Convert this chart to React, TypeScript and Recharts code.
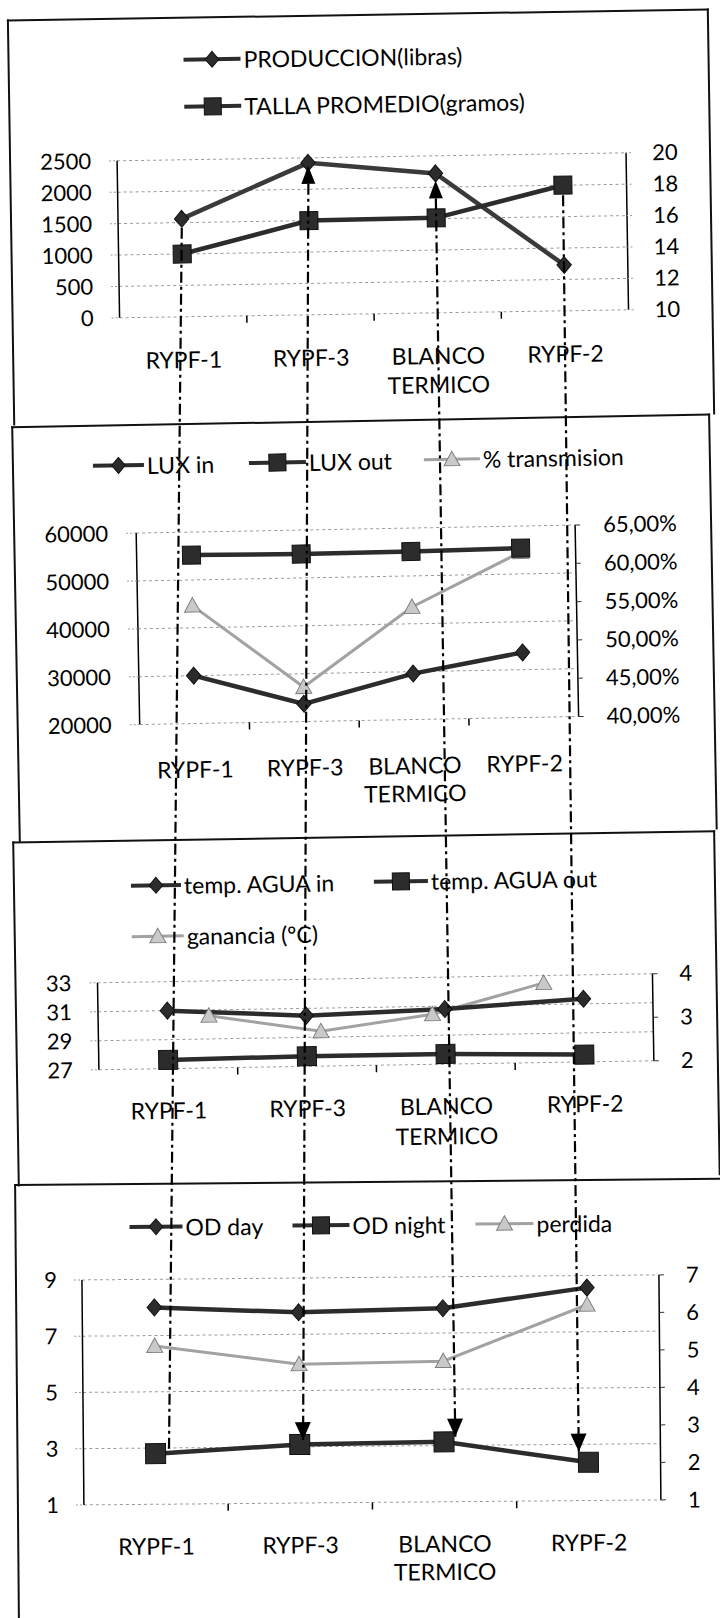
import React from 'react';
import { LineChart, Line, XAxis, YAxis, CartesianGrid, ReferenceDot } from 'recharts';

// ---------- DATA ----------
const categories = ['RYPF-1', 'RYPF-3', 'BLANCO TERMICO', 'RYPF-2'];

const p1Names = ['PRODUCCION(libras)', 'TALLA PROMEDIO(gramos)'];
const produccion = [1560, 2420, 2220, 730];
const tallaPromedio = [14.0, 16.0, 16.05, 18.0];
const p1LeftTicks = [0, 500, 1000, 1500, 2000, 2500];
const p1RightTicks = [10, 12, 14, 16, 18, 20];

const p2Names = ['LUX in', 'LUX out', '% transmision'];
const luxIn = [30000, 23700, 29600, 33600];
const luxOut = [55200, 55000, 55100, 55400];
const transmision = [0.554, 0.445, 0.547, 0.616];
const p2LeftTicks = [20000, 30000, 40000, 50000, 60000];
const p2RightTicks = [0.4, 0.45, 0.5, 0.55, 0.6, 0.65];

const p3Names = ['temp. AGUA in', 'temp. AGUA out', 'ganancia (ºC)'];
const tempIn = [31.0, 30.5, 30.8, 31.35];
const tempOut = [27.6, 27.7, 27.7, 27.5];
const ganancia = [3.2, 2.8, 3.15, 3.83];
const p3LeftTicks = [27, 29, 31, 33];
const p3RightTicks = [2, 3, 4];

const p4Names = ['OD day', 'OD night', 'perdida'];
const odDay = [8.0, 7.78, 7.88, 8.57];
const odNight = [2.8, 3.08, 3.13, 2.36];
const perdida = [5.22, 4.7, 4.75, 6.22];
const p4LeftTicks = [1, 3, 5, 7, 9];
const p4RightTicks = [1, 2, 3, 4, 5, 6, 7];

// ---------- tables built from the arrays ----------
const p1Data = categories.map((c, i) => ({ cat: c, prod: produccion[i], talla: tallaPromedio[i] }));
const p2Data = categories.map((c, i) => ({ cat: c, luxIn: luxIn[i], luxOut: luxOut[i], trans: transmision[i] }));
const p3Data = categories.map((c, i) => ({ cat: c, tIn: tempIn[i], tOut: tempOut[i], gan: ganancia[i] }));
const p4Data = categories.map((c, i) => ({ cat: c, day: odDay[i], night: odNight[i], perd: perdida[i] }));

// ---------- styles ----------
const FONT = 'Lato, "Open Sans", sans-serif';
const DARK = '#2c2c2c';
const LIGHT = '#a2a2a2';
const LIGHT_FILL = '#c9c9c9';
const GRID = '#9a9a9a';

type Kind = 'diamond' | 'square' | 'triangle';

function markerPath(kind: Kind, cx: number, cy: number, s: number) {
  const h = s / 2;
  if (kind === 'diamond') return `M${cx},${cy - h}L${cx + h * 0.85},${cy}L${cx},${cy + h}L${cx - h * 0.85},${cy}Z`;
  if (kind === 'square') return `M${cx - h},${cy - h}h${s}v${s}h${-s}Z`;
  return `M${cx},${cy - h}L${cx + h},${cy + h * 0.8}L${cx - h},${cy + h * 0.8}Z`;
}

const makeDot = (kind: Kind, size: number, light = false) => (props: any) => {
  const { cx, cy, index } = props;
  if (cx == null || cy == null) return <g key={index} />;
  return (
    <path
      key={index}
      d={markerPath(kind, cx, cy, size)}
      fill={light ? LIGHT_FILL : DARK}
      stroke={light ? '#808080' : '#111'}
      strokeWidth={1}
    />
  );
};

const makeCatTick = (margin: number, lineH: number) => (props: any) => {
  const { x, y, payload, index } = props;
  const words = String(payload.value).split(' ');
  const off = payload && payload.offset ? payload.offset : 0;
  const axisY = y - margin;
  return (
    <g>
      {index < categories.length - 1 && off > 0 && (
        <line x1={x + off} x2={x + off} y1={axisY} y2={axisY + 7} stroke="#000" strokeWidth={1.5} />
      )}
      <text x={x} y={y} textAnchor="middle" fill="#000" fontFamily={FONT} fontSize={23}>
        {words.map((w, i) => (
          <tspan key={i} x={x} dy={i === 0 ? '0.71em' : lineH}>
            {w}
          </tspan>
        ))}
      </text>
    </g>
  );
};

const yTick = { fill: '#000', fontSize: 22, fontFamily: FONT };
const axisLineStyle = { stroke: '#000', strokeWidth: 1.5 };
const gridTickLine = { stroke: GRID, strokeDasharray: '2 2' };
const rightTickLine = { stroke: '#333', strokeWidth: 1 };

// hand-drawn dash-dot guide lines (annotation geometry, in panel-1 frame)
const GUIDES = [
  { cat: 0, axis: 'left', startGap: 9, endDx: -32, endY: 1447, arrowUp: false, arrowDown: false },
  { cat: 1, axis: 'left', startGap: 21, endDx: -25, endY: 1439, arrowUp: true, arrowDown: true },
  { cat: 2, axis: 'left', startGap: 25, endDx: 0, endY: 1438, arrowUp: true, arrowDown: true },
  { cat: 3, axis: 'right', startGap: 10, endDx: -4, endY: 1455, arrowUp: false, arrowDown: true },
];

const guideShape = (g: any) => (props: any) => {
  const { cx, cy } = props;
  if (cx == null || cy == null || isNaN(cx) || isNaN(cy)) return <g />;
  const ex = cx + g.endDx;
  const ey = g.endY;
  const tipUp = g.cat === 2 ? cy + 7 : cy + 3;
  return (
    <g>
      <line
        x1={cx}
        y1={cy + g.startGap}
        x2={ex}
        y2={ey}
        stroke="#000"
        strokeWidth={2.2}
        strokeDasharray="11 4 3 4"
      />
      {g.arrowUp && <path d={`M${cx},${tipUp}L${cx + 7},${tipUp + 18}L${cx - 7},${tipUp + 18}Z`} fill="#000" />}
      {g.arrowDown && <path d={`M${ex},${ey}L${ex + 8},${ey - 18}L${ex - 8},${ey - 18}Z`} fill="#000" />}
    </g>
  );
};

// ---------- legend ----------
type LegendItem = { name: string; kind: Kind; light?: boolean; x: number; y: number; w: number };

function Legend({ items }: { items: LegendItem[] }) {
  return (
    <>
      {items.map((it, i) => (
        <div
          key={i}
          style={{
            position: 'absolute',
            left: it.x,
            top: it.y - 12,
            height: 24,
            display: 'flex',
            alignItems: 'center',
            whiteSpace: 'nowrap',
          }}
        >
          <svg width={it.w} height={24} style={{ display: 'block', overflow: 'visible' }}>
            <line
              x1={0}
              x2={it.w}
              y1={12}
              y2={12}
              stroke={it.light ? LIGHT : DARK}
              strokeWidth={it.light ? 3 : 4}
            />
            <path
              d={markerPath(it.kind, it.w / 2, 12, it.kind === 'square' ? 17 : 16)}
              fill={it.light ? LIGHT_FILL : DARK}
              stroke={it.light ? '#808080' : '#111'}
              strokeWidth={1}
            />
          </svg>
          <span
            style={{
              marginLeft: 3,
              fontFamily: FONT,
              fontSize: 23,
              lineHeight: '24px',
              color: '#000',
            }}
          >
            {it.name}
          </span>
        </div>
      ))}
    </>
  );
}

function Panel({
  top,
  height,
  angle,
  z,
  box,
  children,
}: {
  top: number;
  height: number;
  angle: number;
  z: number;
  box: React.CSSProperties;
  children: React.ReactNode;
}) {
  return (
    <div
      style={{
        position: 'absolute',
        left: 0,
        top,
        width: 720,
        height,
        transform: `rotate(${angle}deg)`,
        transformOrigin: '50% 50%',
        zIndex: z,
      }}
    >
      <div style={{ position: 'absolute', boxSizing: 'border-box', borderColor: '#111', borderStyle: 'solid', ...box }} />
      {children}
    </div>
  );
}

export default function App() {
  return (
    <div
      style={{
        position: 'absolute',
        left: 0,
        top: 0,
        width: 720,
        height: 1618,
        overflow: 'hidden',
        background: '#fff',
        fontFamily: FONT,
      }}
    >
      <style>{`.recharts-surface{overflow:visible}.recharts-wrapper{overflow:visible !important}`}</style>

      {/* ---------- Panel 1 ---------- */}
      <Panel
        top={0}
        height={432}
        angle={-0.9}
        z={10}
        box={{ left: 10, top: 14, width: 702, height: 406, borderWidth: '2px 2px 0 2px' }}
      >
        <Legend
          items={[
            { name: p1Names[0], kind: 'diamond', x: 186, y: 57, w: 57 },
            { name: p1Names[1], kind: 'square', x: 186, y: 104, w: 57 },
          ]}
        />
        <div style={{ position: 'absolute', left: 0, top: 0 }}>
          <LineChart width={720} height={432} data={p1Data} margin={{ top: 157, right: 33, bottom: 58, left: 58 }}>
            <CartesianGrid yAxisId="left" vertical={false} stroke={GRID} strokeDasharray="3 3" />
            <XAxis
              dataKey="cat"
              scale="band"
              height={60}
              axisLine={false}
              tickLine={false}
              tickSize={0}
              tickMargin={35}
              interval={0}
              tick={makeCatTick(35, 29)}
            />
            <YAxis
              yAxisId="left"
              width={60}
              domain={[0, 2500]}
              ticks={p1LeftTicks}
              interval={0}
              tick={yTick}
              axisLine={axisLineStyle}
              tickLine={gridTickLine}
              tickSize={8}
              tickMargin={18}
            />
            <YAxis
              yAxisId="right"
              orientation="right"
              width={60}
              domain={[10, 20]}
              ticks={p1RightTicks}
              interval={0}
              tick={yTick}
              axisLine={axisLineStyle}
              tickLine={gridTickLine}
              tickSize={5}
              tickMargin={21}
            />
            <Line
              yAxisId="left"
              dataKey="prod"
              stroke="#3a3a3a"
              strokeWidth={4.5}
              dot={makeDot('diamond', 17)}
              activeDot={false}
              isAnimationActive={false}
            />
            <Line
              yAxisId="right"
              dataKey="talla"
              stroke={DARK}
              strokeWidth={4.5}
              dot={makeDot('square', 18)}
              activeDot={false}
              isAnimationActive={false}
            />
            {GUIDES.map((g, i) => (
              <ReferenceDot
                key={i}
                x={categories[g.cat]}
                y={g.axis === 'left' ? produccion[g.cat] : tallaPromedio[g.cat]}
                yAxisId={g.axis}
                r={0}
                ifOverflow="visible"
                shape={guideShape(g)}
              />
            ))}
          </LineChart>
        </div>
      </Panel>

      {/* ---------- Panel 2 ---------- */}
      <Panel
        top={420}
        height={421}
        angle={-1.05}
        z={2}
        box={{ left: 15, top: 0, width: 699, height: 416, borderWidth: '2px 2px 0 2px' }}
      >
        <Legend
          items={[
            { name: p2Names[0], kind: 'diamond', x: 96, y: 41, w: 51 },
            { name: p2Names[1], kind: 'square', x: 252, y: 41, w: 57 },
            { name: p2Names[2], kind: 'triangle', light: true, x: 427, y: 41, w: 56 },
          ]}
        />
        <div style={{ position: 'absolute', left: 0, top: 0 }}>
          <LineChart width={720} height={421} data={p2Data} margin={{ top: 109, right: 73, bottom: 60.5, left: 68 }}>
            <CartesianGrid yAxisId="left" vertical={false} stroke={GRID} strokeDasharray="3 3" />
            <XAxis
              dataKey="cat"
              scale="band"
              height={60}
              axisLine={false}
              tickLine={false}
              tickSize={0}
              tickMargin={38}
              interval={0}
              tick={makeCatTick(38, 28)}
            />
            <YAxis
              yAxisId="left"
              width={70}
              domain={[20000, 60000]}
              ticks={p2LeftTicks}
              interval={0}
              tick={yTick}
              axisLine={axisLineStyle}
              tickLine={gridTickLine}
              tickSize={10}
              tickMargin={18}
            />
            <YAxis
              yAxisId="right"
              orientation="right"
              width={70}
              domain={[0.4, 0.65]}
              ticks={p2RightTicks}
              interval={0}
              tick={yTick}
              tickFormatter={(v: number) => (v * 100).toFixed(2).replace('.', ',') + '%'}
              axisLine={axisLineStyle}
              tickLine={rightTickLine}
              tickSize={5}
              tickMargin={23}
            />
            <Line
              yAxisId="right"
              dataKey="trans"
              stroke={LIGHT}
              strokeWidth={3}
              dot={makeDot('triangle', 16, true)}
              activeDot={false}
              isAnimationActive={false}
            />
            <Line
              yAxisId="left"
              dataKey="luxIn"
              stroke={DARK}
              strokeWidth={4.5}
              dot={makeDot('diamond', 17)}
              activeDot={false}
              isAnimationActive={false}
            />
            <Line
              yAxisId="left"
              dataKey="luxOut"
              stroke={DARK}
              strokeWidth={4.5}
              dot={makeDot('square', 18)}
              activeDot={false}
              isAnimationActive={false}
            />
          </LineChart>
        </div>
      </Panel>

      {/* ---------- Panel 3 ---------- */}
      <Panel
        top={841}
        height={340}
        angle={-0.93}
        z={2}
        box={{ left: 15, top: -5, width: 703, height: 345, borderWidth: '2px 2px 0 2px' }}
      >
        <Legend
          items={[
            { name: p3Names[0], kind: 'diamond', x: 133, y: 41, w: 50 },
            { name: p3Names[1], kind: 'square', x: 376, y: 41, w: 54 },
            { name: p3Names[2], kind: 'triangle', light: true, x: 133, y: 92, w: 52 },
          ]}
        />
        <div style={{ position: 'absolute', left: 0, top: 0 }}>
          <LineChart width={720} height={340} data={p3Data} margin={{ top: 137.5, right: 17, bottom: 55.5, left: 48 }}>
            <CartesianGrid yAxisId="left" vertical={false} stroke={GRID} strokeDasharray="3 3" />
            <XAxis
              dataKey="cat"
              scale="band"
              height={60}
              axisLine={false}
              tickLine={false}
              tickSize={0}
              tickMargin={34}
              interval={0}
              tick={makeCatTick(34, 30)}
            />
            <XAxis xAxisId="shift" dataKey="cat" scale="band" hide padding={{ left: 55, right: 53 }} />
            <YAxis
              yAxisId="left"
              width={50}
              domain={[27, 33]}
              ticks={p3LeftTicks}
              interval={0}
              tick={yTick}
              axisLine={axisLineStyle}
              tickLine={gridTickLine}
              tickSize={8}
              tickMargin={18}
            />
            <YAxis
              yAxisId="right"
              orientation="right"
              width={50}
              domain={[2, 4]}
              ticks={p3RightTicks}
              interval={0}
              tick={yTick}
              axisLine={axisLineStyle}
              tickLine={rightTickLine}
              tickSize={5}
              tickMargin={22}
            />
            <Line
              xAxisId="shift"
              yAxisId="right"
              dataKey="gan"
              stroke={LIGHT}
              strokeWidth={3}
              dot={makeDot('triangle', 16, true)}
              activeDot={false}
              isAnimationActive={false}
            />
            <Line
              yAxisId="left"
              dataKey="tIn"
              stroke={DARK}
              strokeWidth={4.5}
              dot={makeDot('diamond', 17)}
              activeDot={false}
              isAnimationActive={false}
            />
            <Line
              yAxisId="left"
              dataKey="tOut"
              stroke={DARK}
              strokeWidth={4.5}
              dot={makeDot('square', 19)}
              activeDot={false}
              isAnimationActive={false}
            />
          </LineChart>
        </div>
      </Panel>

      {/* ---------- Panel 4 ---------- */}
      <Panel
        top={1181}
        height={437}
        angle={-0.5}
        z={2}
        box={{ left: 16, top: 0, width: 760, height: 480, borderWidth: '2px 0 0 2px' }}
      >
        <Legend
          items={[
            { name: p4Names[0], kind: 'diamond', x: 131, y: 44, w: 53 },
            { name: p4Names[1], kind: 'square', x: 294, y: 44, w: 57 },
            { name: p4Names[2], kind: 'triangle', light: true, x: 477, y: 44, w: 58 },
          ]}
        />
        <div style={{ position: 'absolute', left: 0, top: 0 }}>
          <LineChart width={720} height={437} data={p4Data} margin={{ top: 96.5, right: 10, bottom: 55.5, left: 33 }}>
            <CartesianGrid yAxisId="left" vertical={false} stroke={GRID} strokeDasharray="3 3" />
            <XAxis
              dataKey="cat"
              scale="band"
              height={60}
              axisLine={false}
              tickLine={false}
              tickSize={0}
              tickMargin={34}
              interval={0}
              tick={makeCatTick(34, 28)}
            />
            <YAxis
              yAxisId="left"
              width={50}
              domain={[1, 9]}
              ticks={p4LeftTicks}
              interval={0}
              tick={yTick}
              axisLine={axisLineStyle}
              tickLine={gridTickLine}
              tickSize={8}
              tickMargin={17}
            />
            <YAxis
              yAxisId="right"
              orientation="right"
              width={50}
              domain={[1, 7]}
              ticks={p4RightTicks}
              interval={0}
              tick={yTick}
              axisLine={axisLineStyle}
              tickLine={rightTickLine}
              tickSize={5}
              tickMargin={22}
            />
            <Line
              yAxisId="right"
              dataKey="perd"
              stroke={LIGHT}
              strokeWidth={3}
              dot={makeDot('triangle', 16, true)}
              activeDot={false}
              isAnimationActive={false}
            />
            <Line
              yAxisId="left"
              dataKey="day"
              stroke={DARK}
              strokeWidth={4.5}
              dot={makeDot('diamond', 17)}
              activeDot={false}
              isAnimationActive={false}
            />
            <Line
              yAxisId="left"
              dataKey="night"
              stroke={DARK}
              strokeWidth={4.5}
              dot={makeDot('square', 20)}
              activeDot={false}
              isAnimationActive={false}
            />
          </LineChart>
        </div>
      </Panel>
    </div>
  );
}
